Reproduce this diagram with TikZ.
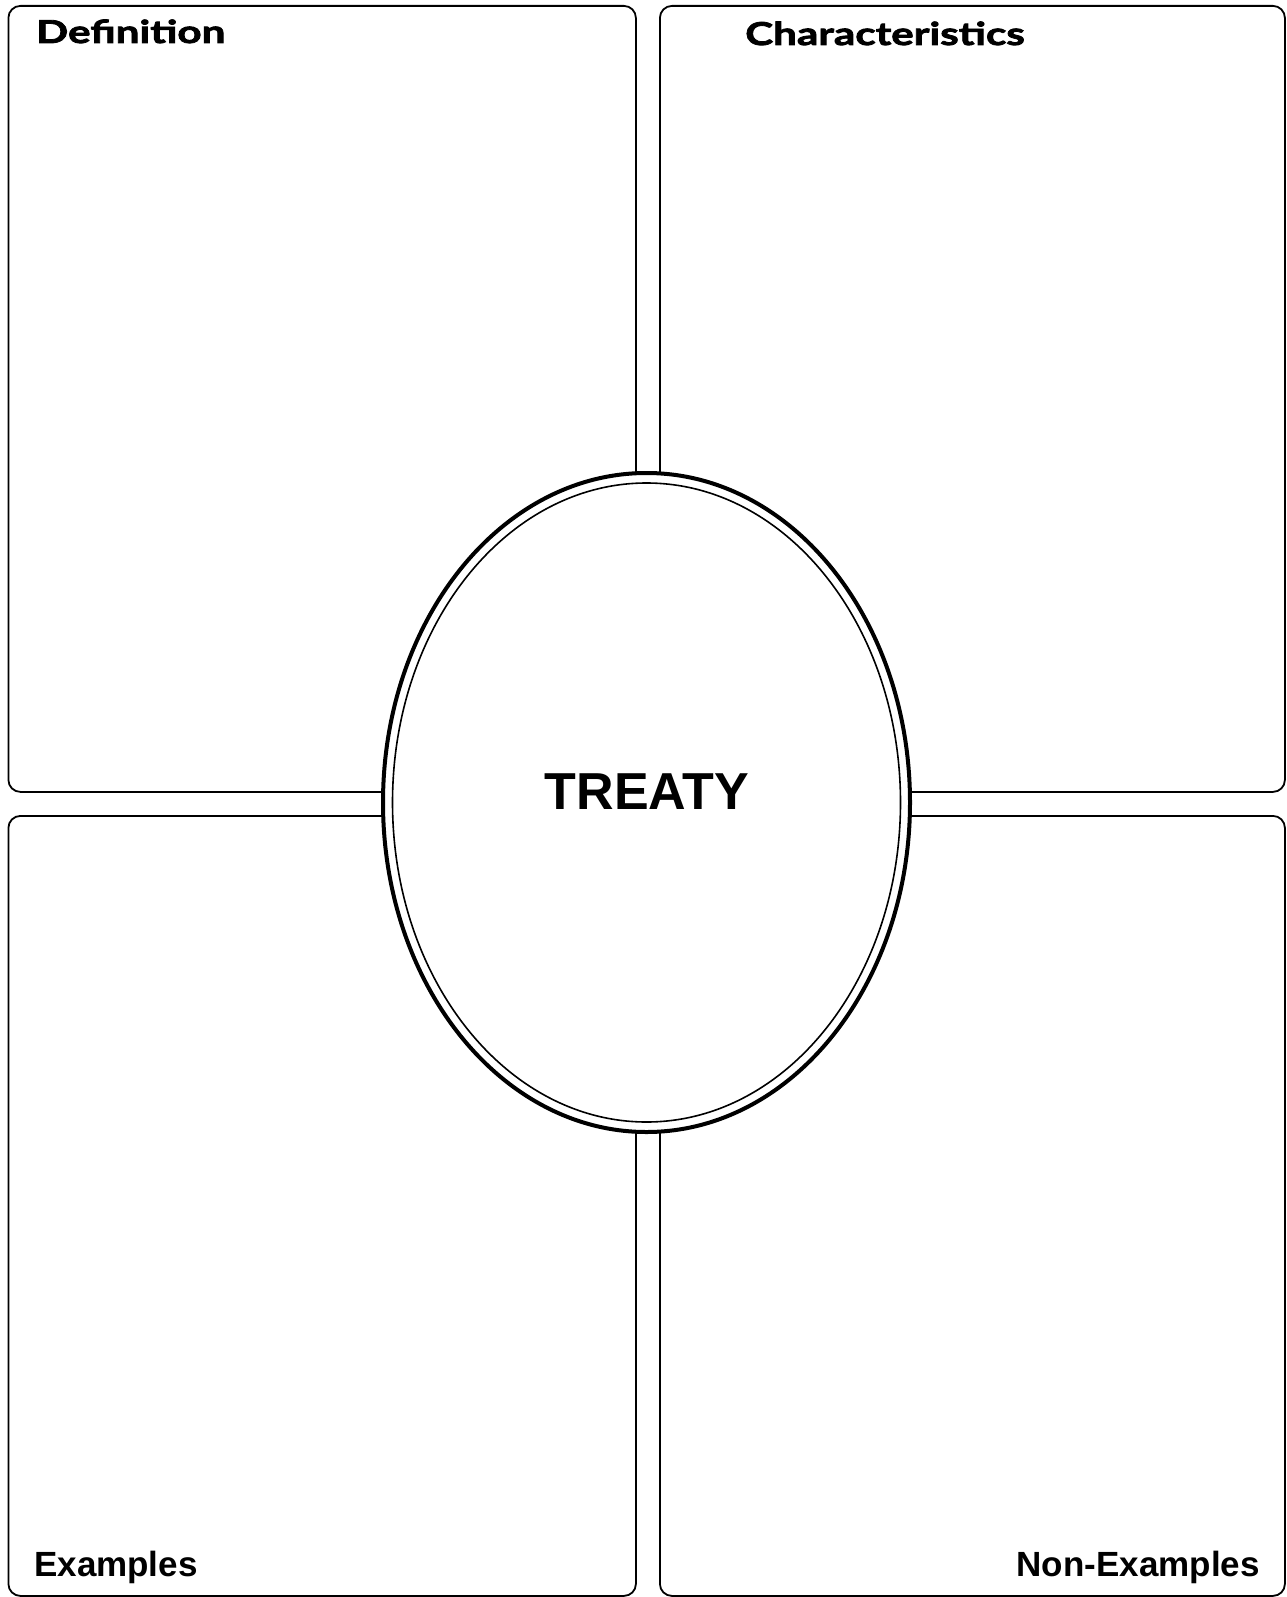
\documentclass[tikz,border=0pt]{standalone}
\usepackage{fontspec}
\usepackage{tikz}
\usetikzlibrary{shapes.geometric}
\setmainfont{Liberation Sans}
\newfontfamily\gillfont{Lato}[FakeStretch=1.34,BoldFeatures={FakeBold=2.5}]

\tikzset{
  panel/.style={draw,line width=1.8pt,rounded corners=12pt,anchor=north west,inner sep=0pt},
  headlabel/.style={font=\gillfont\bfseries\fontsize{31.5}{34}\selectfont,inner sep=0pt},
  footlabel/.style={font=\bfseries\fontsize{35}{40}\selectfont,inner sep=0pt},
}

\begin{document}
\begin{tikzpicture}[x=1pt,y=-1pt]
\useasboundingbox (0,0) rectangle (1286,1597);

\node[panel,minimum width=627.5pt,minimum height=786pt] (def) at (7.5,5) {};
\node[panel,minimum width=625pt,minimum height=786pt] (char) at (659,5) {};
\node[panel,minimum width=627.5pt,minimum height=780pt] (ex) at (7.5,815) {};
\node[panel,minimum width=625pt,minimum height=780pt] (nonex) at (659,815) {};

\node[headlabel,anchor=base west] (deflabel) at (36,43) {Definition};
\node[headlabel,anchor=base west] (charlabel) at (745,45) {Characteristics};
\node[footlabel,anchor=base west] (exlabel) at (34,1576) {Examples};
\node[footlabel,anchor=base east] (nonexlabel) at (1260,1576) {Non-Examples};

\node[ellipse,draw,fill=white,line width=4pt,minimum width=527pt,minimum height=659pt,inner sep=0pt] (outer) at (646.5,802.5) {};
\node[ellipse,draw,line width=1.6pt,minimum width=508pt,minimum height=639pt,inner sep=0pt] (inner) at (outer.center) {};
\node[font=\bfseries\fontsize{52}{60}\selectfont,inner sep=0pt,anchor=base] (word) at (647,809) {TREATY};
\end{tikzpicture}
\end{document}
